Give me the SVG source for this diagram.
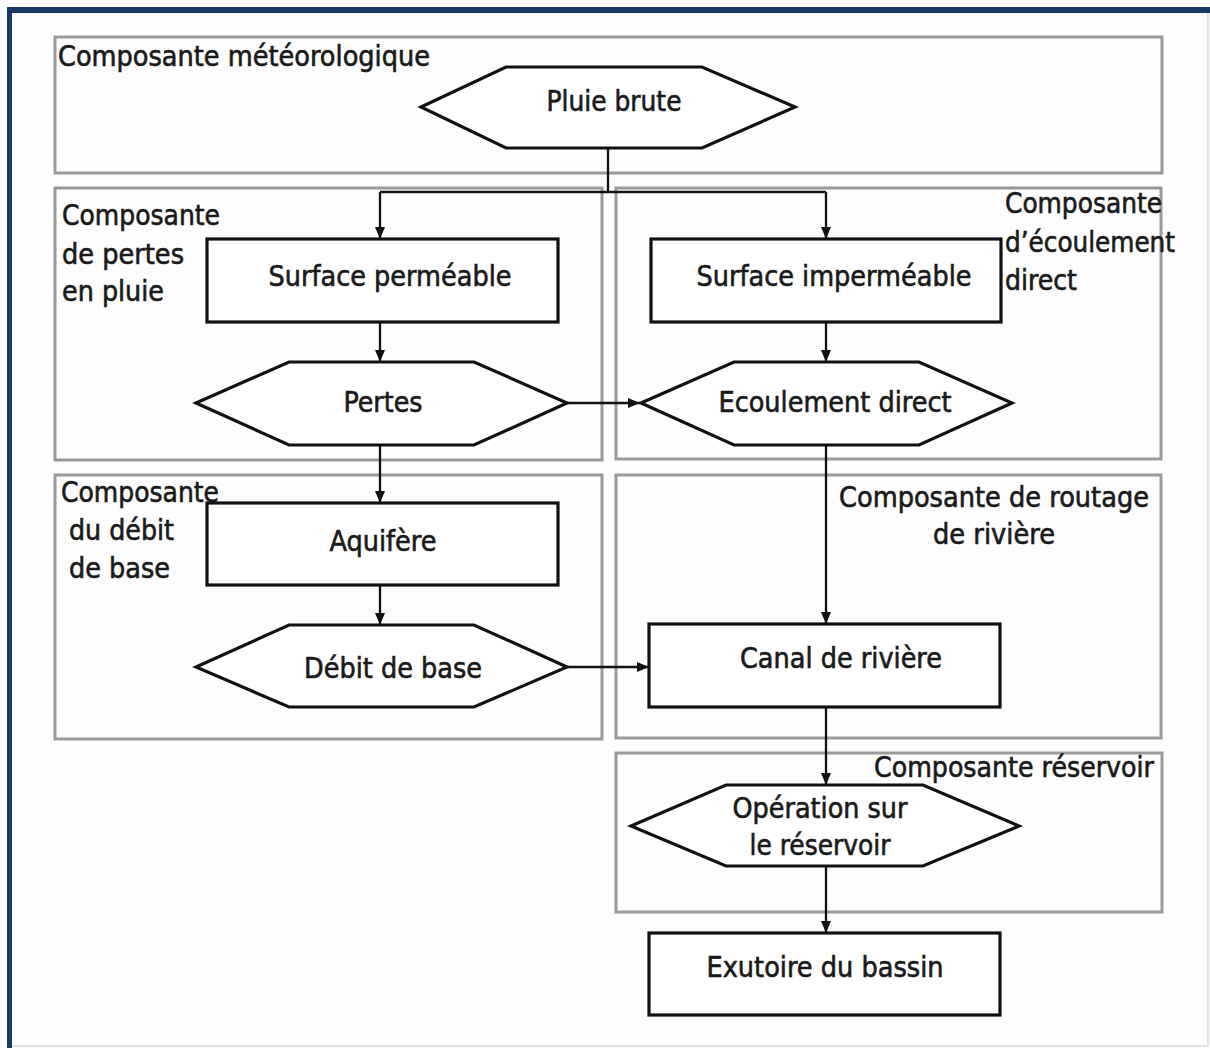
<svg xmlns="http://www.w3.org/2000/svg" width="1210" height="1048" viewBox="0 0 1210 1048">
  <style>
    text { font-family: "DejaVu Sans Condensed", "DejaVu Sans", sans-serif; font-size: 29px; fill: #1a1a1a; stroke: #1a1a1a; stroke-width: 0.6; }
    .mid { text-anchor: middle; }
    .group { fill: none; stroke: #9a9a9a; stroke-width: 3; }
    .node { fill: #ffffff; stroke: #111111; stroke-width: 3.2; }
    .link { fill: none; stroke: #111111; stroke-width: 2.3; }
  </style>
  <defs>
    <marker id="arrow" viewBox="0 0 12 10" refX="12" refY="5" markerWidth="12" markerHeight="10" markerUnits="userSpaceOnUse" orient="auto">
      <path d="M0,0 L12,5 L0,10 z" fill="#111111"/>
    </marker>
  </defs>

  <!-- page background and frame -->
  <rect x="0" y="0" width="1210" height="1048" fill="#fdfdfd"/>
  <line x1="1208" y1="12" x2="1208" y2="1046" stroke="#d8d8d8" stroke-width="1.5"/>
  <line x1="12" y1="1046" x2="1208" y2="1046" stroke="#d8d8d8" stroke-width="1.5"/>
  <rect x="7" y="7" width="1203" height="6" fill="#1b3a63"/>
  <rect x="7" y="7" width="5" height="1041" fill="#1b3a63"/>

  <!-- component groups -->
  <g id="grp-meteo">
    <rect class="group" x="55" y="37" width="1107" height="136"/>
    <text x="58" y="66" textLength="372" lengthAdjust="spacingAndGlyphs">Composante météorologique</text>
  </g>
  <g id="grp-pertes">
    <rect class="group" x="55" y="188" width="547" height="272"/>
    <text x="62" y="225" textLength="158" lengthAdjust="spacingAndGlyphs">Composante</text>
    <text x="62" y="264" textLength="122" lengthAdjust="spacingAndGlyphs">de pertes</text>
    <text x="62" y="301" textLength="102" lengthAdjust="spacingAndGlyphs">en pluie</text>
  </g>
  <g id="grp-ecoulement">
    <rect class="group" x="616" y="188" width="545" height="271"/>
    <text x="1005" y="213" textLength="157" lengthAdjust="spacingAndGlyphs">Composante</text>
    <text x="1005" y="252" textLength="170" lengthAdjust="spacingAndGlyphs">d’écoulement</text>
    <text x="1005" y="290" textLength="72" lengthAdjust="spacingAndGlyphs">direct</text>
  </g>
  <g id="grp-debit">
    <rect class="group" x="55" y="475" width="547" height="264"/>
    <text x="61" y="502" textLength="158" lengthAdjust="spacingAndGlyphs">Composante</text>
    <text x="69" y="540" textLength="105" lengthAdjust="spacingAndGlyphs">du débit</text>
    <text x="69" y="578" textLength="101" lengthAdjust="spacingAndGlyphs">de base</text>
  </g>
  <g id="grp-routage">
    <rect class="group" x="616" y="475" width="545" height="263"/>
    <text class="mid" x="994" y="507" textLength="310" lengthAdjust="spacingAndGlyphs">Composante de routage</text>
    <text class="mid" x="994" y="544" textLength="122" lengthAdjust="spacingAndGlyphs">de rivière</text>
  </g>
  <g id="grp-reservoir">
    <rect class="group" x="616" y="753" width="546" height="159"/>
    <text x="874" y="777" textLength="280" lengthAdjust="spacingAndGlyphs">Composante réservoir</text>
  </g>

  <!-- connectors -->
  <g id="connectors">
    <polyline class="link" points="608,148 608,192"/>
    <polyline class="link" points="380,192 826,192"/>
    <line class="link" x1="380" y1="192" x2="380" y2="239" marker-end="url(#arrow)"/>
    <line class="link" x1="826" y1="192" x2="826" y2="239" marker-end="url(#arrow)"/>
    <line class="link" x1="380" y1="322" x2="380" y2="362" marker-end="url(#arrow)"/>
    <line class="link" x1="826" y1="322" x2="826" y2="362" marker-end="url(#arrow)"/>
    <line class="link" x1="567" y1="403" x2="640" y2="403" marker-end="url(#arrow)"/>
    <line class="link" x1="380" y1="445" x2="380" y2="503" marker-end="url(#arrow)"/>
    <line class="link" x1="826" y1="445" x2="826" y2="624" marker-end="url(#arrow)"/>
    <line class="link" x1="380" y1="585" x2="380" y2="625" marker-end="url(#arrow)"/>
    <line class="link" x1="567" y1="667" x2="649" y2="667" marker-end="url(#arrow)"/>
    <line class="link" x1="826" y1="707" x2="826" y2="785" marker-end="url(#arrow)"/>
    <line class="link" x1="826" y1="866" x2="826" y2="933" marker-end="url(#arrow)"/>
  </g>

  <!-- flow nodes -->
  <g id="pluie-brute">
    <polygon class="node" points="421,107 506,67 702,67 795,107 702,148 506,148"/>
    <text class="mid" x="614" y="111" textLength="135" lengthAdjust="spacingAndGlyphs">Pluie brute</text>
  </g>
  <g id="surface-permeable">
    <rect class="node" x="207" y="239" width="351" height="83"/>
    <text class="mid" x="390" y="286" textLength="243" lengthAdjust="spacingAndGlyphs">Surface perméable</text>
  </g>
  <g id="surface-impermeable">
    <rect class="node" x="651" y="239" width="350" height="83"/>
    <text class="mid" x="834" y="286" textLength="275" lengthAdjust="spacingAndGlyphs">Surface imperméable</text>
  </g>
  <g id="pertes">
    <polygon class="node" points="196,403 289,362 474,362 567,403 474,445 289,445"/>
    <text class="mid" x="383" y="412" textLength="79" lengthAdjust="spacingAndGlyphs">Pertes</text>
  </g>
  <g id="ecoulement-direct">
    <polygon class="node" points="641,403 734,362 919,362 1012,403 919,445 734,445"/>
    <text class="mid" x="835" y="412" textLength="233" lengthAdjust="spacingAndGlyphs">Ecoulement direct</text>
  </g>
  <g id="aquifere">
    <rect class="node" x="207" y="503" width="351" height="82"/>
    <text class="mid" x="383" y="551" textLength="107" lengthAdjust="spacingAndGlyphs">Aquifère</text>
  </g>
  <g id="debit-de-base">
    <polygon class="node" points="196,667 289,625 474,625 567,667 474,707 289,707"/>
    <text class="mid" x="393" y="678" textLength="178" lengthAdjust="spacingAndGlyphs">Débit de base</text>
  </g>
  <g id="canal-de-riviere">
    <rect class="node" x="649" y="624" width="351" height="83"/>
    <text class="mid" x="841" y="668" textLength="202" lengthAdjust="spacingAndGlyphs">Canal de rivière</text>
  </g>
  <g id="operation-reservoir">
    <polygon class="node" points="631,826 726,785 923,785 1019,826 923,866 726,866"/>
    <text class="mid" x="820" y="818" textLength="175" lengthAdjust="spacingAndGlyphs">Opération sur</text>
    <text class="mid" x="820" y="855" textLength="141" lengthAdjust="spacingAndGlyphs">le réservoir</text>
  </g>
  <g id="exutoire">
    <rect class="node" x="649" y="933" width="351" height="82"/>
    <text class="mid" x="825" y="977" textLength="237" lengthAdjust="spacingAndGlyphs">Exutoire du bassin</text>
  </g>
</svg>
